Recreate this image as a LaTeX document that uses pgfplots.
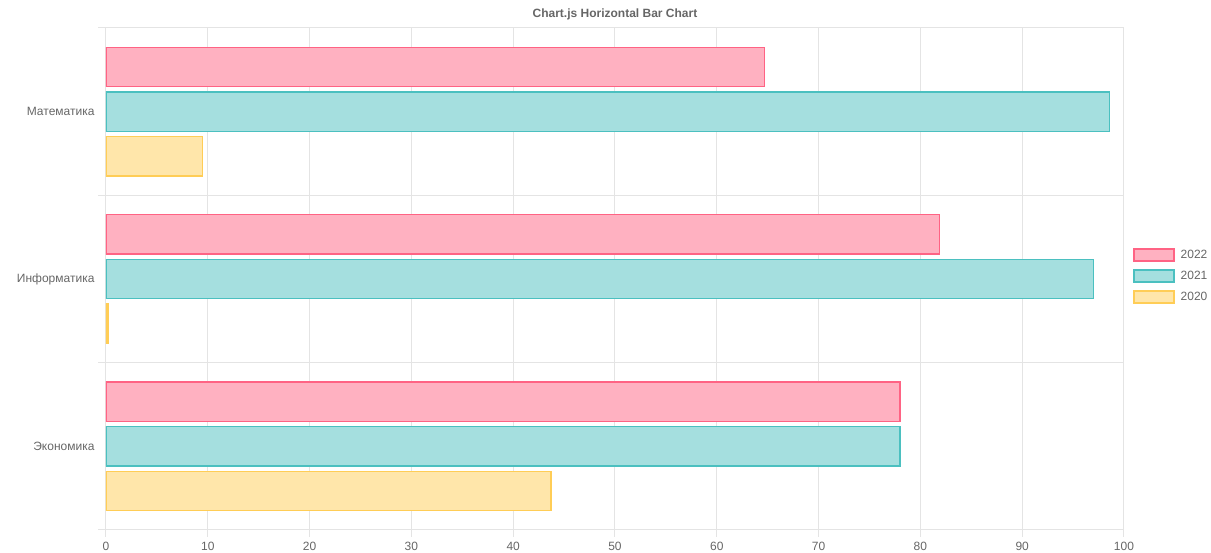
\documentclass[border=0pt]{standalone}
\usepackage{fontspec}
\setmainfont{Liberation Sans}
\usepackage{pgfplots}
\pgfplotsset{compat=1.18}
\definecolor{gridc}{HTML}{E4E4E4}
\definecolor{txt}{HTML}{666666}
\definecolor{pinkF}{HTML}{FFB1C1}
\definecolor{pinkB}{HTML}{FF6384}
\definecolor{tealF}{HTML}{A5DFDF}
\definecolor{tealB}{HTML}{4BC0C0}
\definecolor{yelF}{HTML}{FFE6AA}
\definecolor{yelB}{HTML}{FFCD56}
\begin{document}
\begin{tikzpicture}
\useasboundingbox (0,0) rectangle (1211pt,553pt);
\begin{axis}[
  at={(106pt,23pt)}, anchor=south west,
  scale only axis, width=1018pt, height=502pt,
  xmin=0, xmax=100, ymin=-0.5, ymax=2.5,
  xbar, bar width=0.235,
  axis line style={draw=gridc, line width=1pt},
  xtick={0,10,...,100},
  xmajorgrids,
  grid style={draw=gridc, line width=1pt},
  ytick={0,1,2},
  yticklabels={Экономика, Информатика, Математика},
  minor ytick={-0.5,0.5,1.5,2.5},
  yminorgrids,
  minor grid style={draw=gridc, line width=1pt},
  tick align=outside,
  xtick pos=bottom, ytick pos=left,
  major tick length=7pt,
  minor tick length=8pt,
  every major y tick/.style={draw=none},
  every minor y tick/.style={draw=gridc, line width=1pt},
  every major x tick/.style={draw=gridc, line width=1pt},
  tick label style={font=\fontsize{12}{14}\selectfont, text=txt},
  /pgf/number format/assume math mode=true,
  xticklabel style={yshift=-2pt},
  yticklabel style={xshift=-1pt},
  title={Chart.js Horizontal Bar Chart},
  title style={font=\bfseries\fontsize{12}{14}\selectfont, text=txt, yshift=-2pt},
  legend style={at={(1,0.5)}, anchor=west, xshift=6pt, yshift=3pt,
    draw=none, fill=none, font=\fontsize{12}{14}\selectfont, text=txt,
    row sep=7pt, column sep=4pt},
  legend cell align=left,
  legend image code/.code={\draw[#1] (0pt,-6pt) rectangle (40pt,6pt);},
]
\addplot[fill=pinkF, draw=pinkB, line width=1.5pt, bar shift=0.2665]
  coordinates {(78.0,0) (81.9,1) (64.7,2)};
\addlegendentry{2022}
\addplot[fill=tealF, draw=tealB, line width=1.5pt, bar shift=0]
  coordinates {(78.0,0) (97.0,1) (98.6,2)};
\addlegendentry{2021}
\addplot[fill=yelF, draw=yelB, line width=1.5pt, bar shift=-0.2665]
  coordinates {(43.7,0) (0.2,1) (9.5,2)};
\addlegendentry{2020}
\end{axis}
\end{tikzpicture}
\end{document}
